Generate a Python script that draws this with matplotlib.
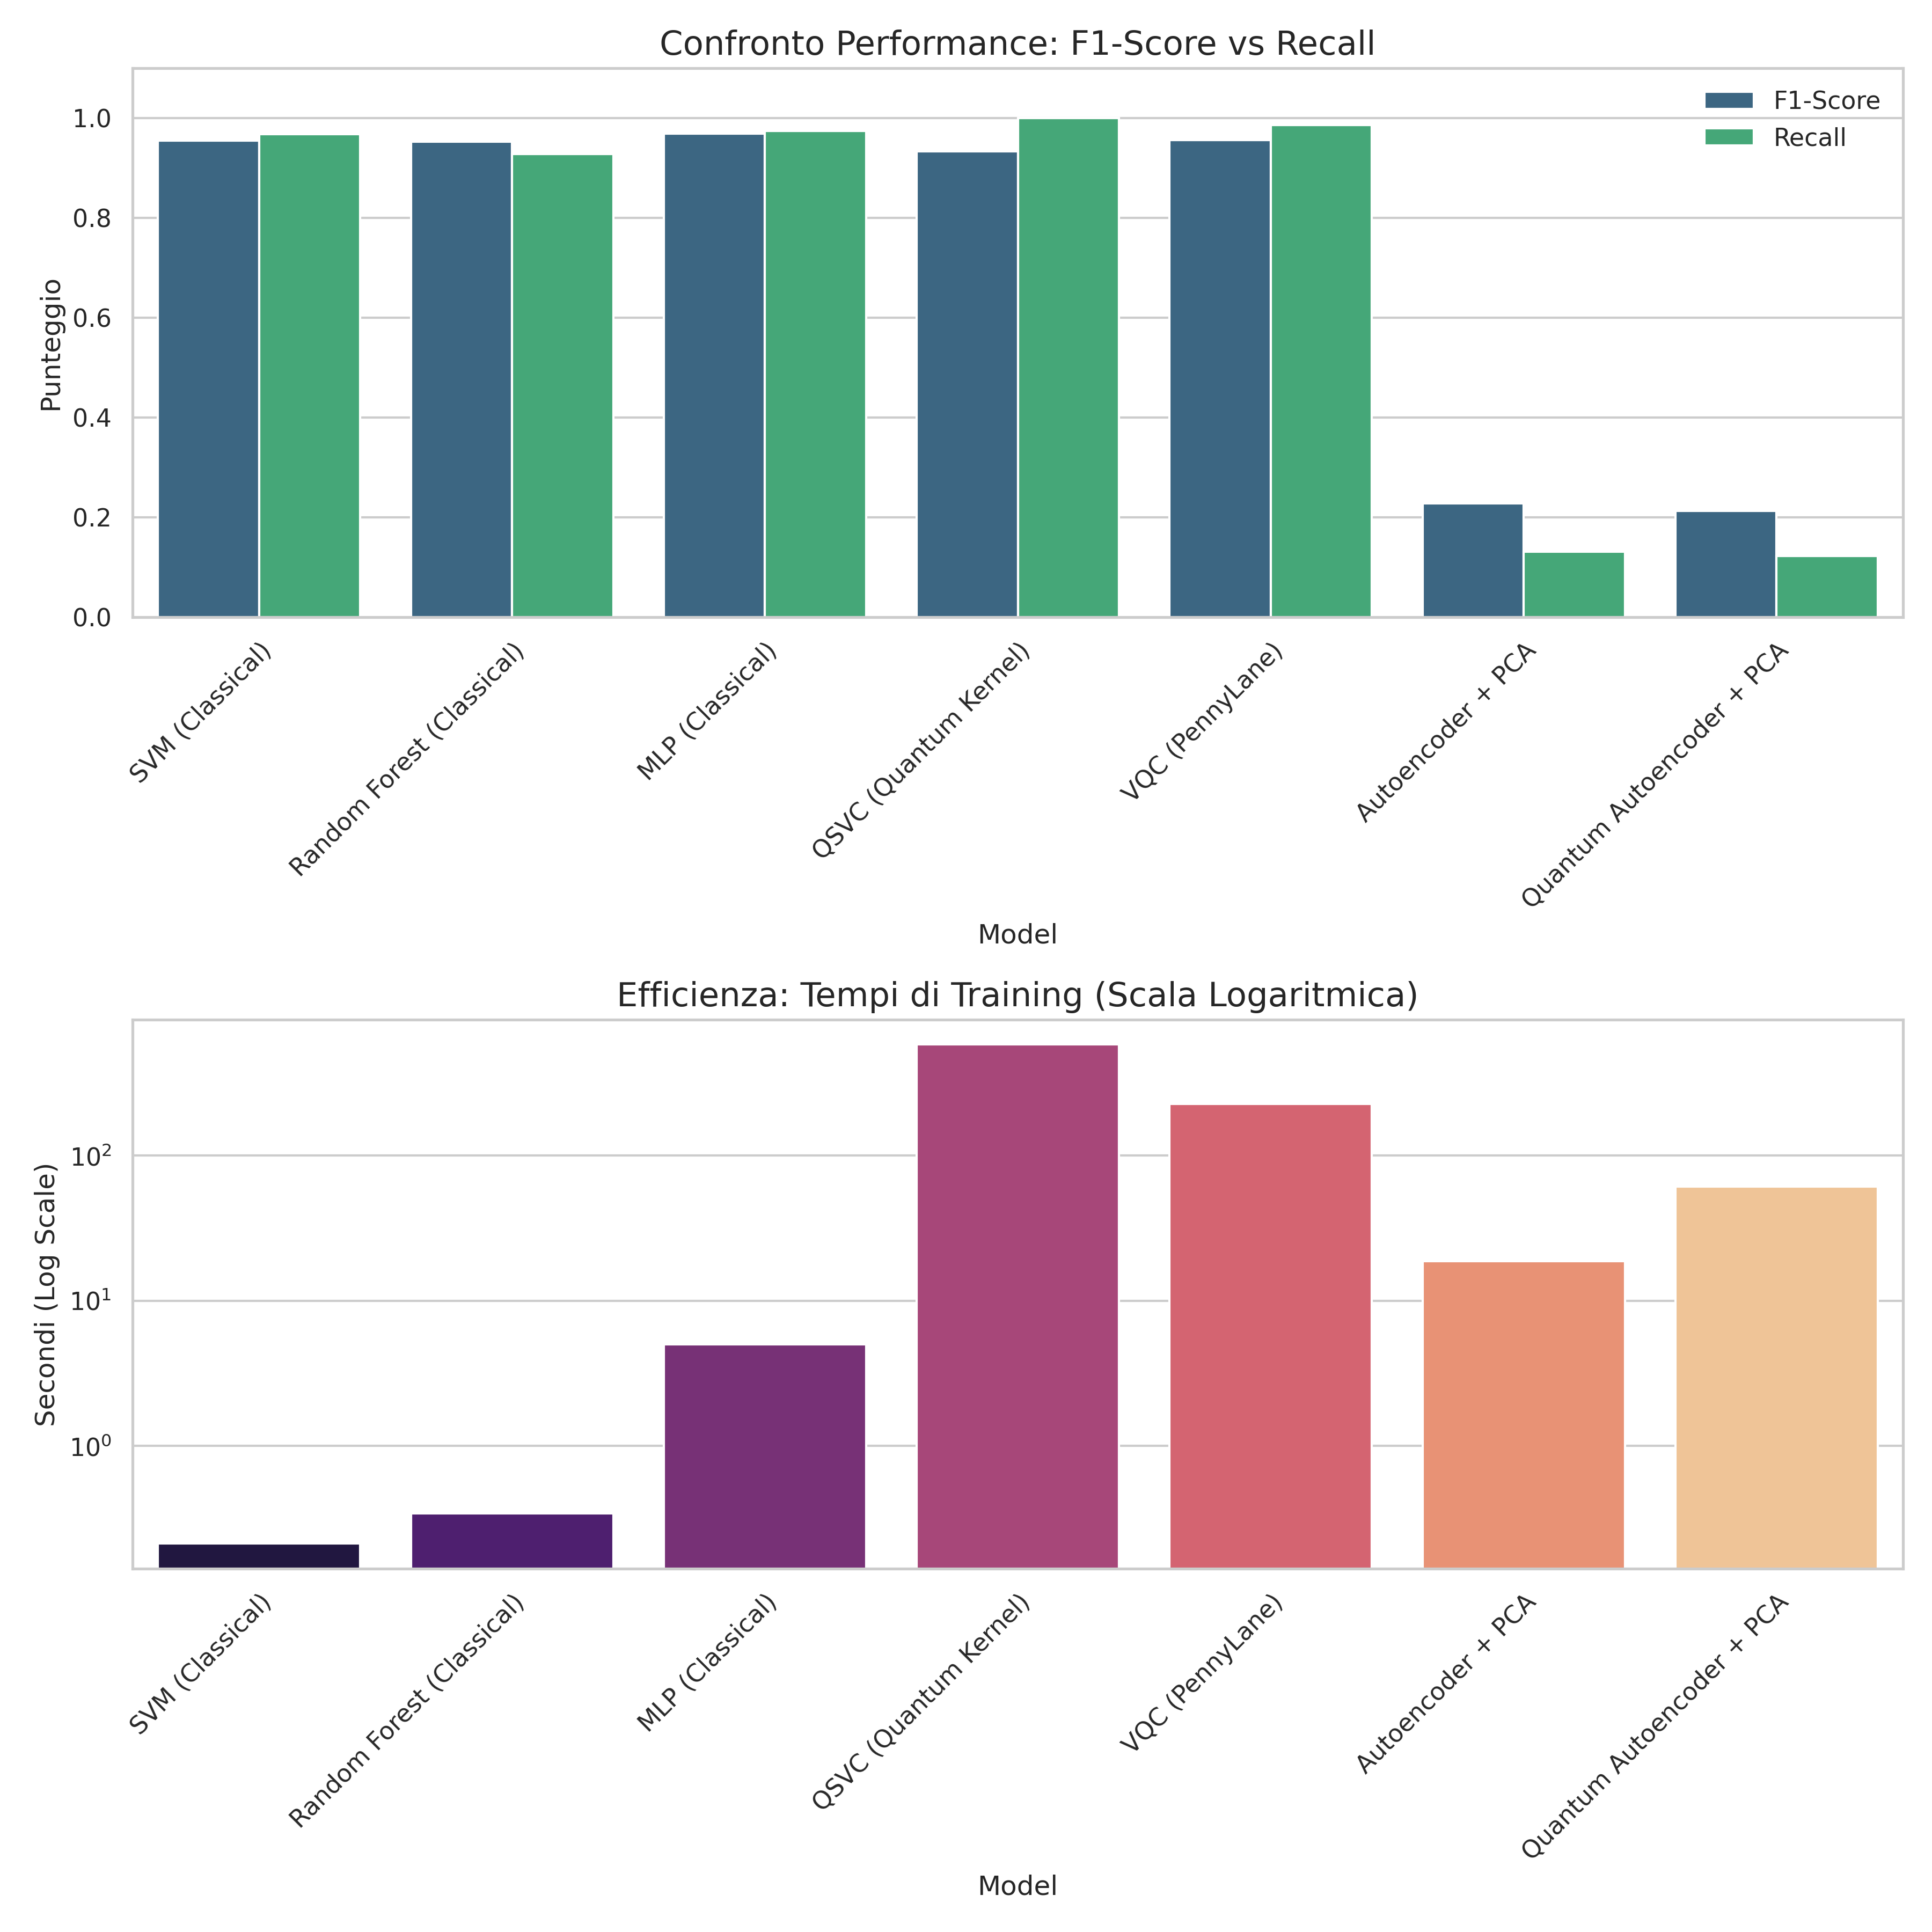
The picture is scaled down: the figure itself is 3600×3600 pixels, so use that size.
import numpy as np
import pandas as pd
import matplotlib
matplotlib.use("Agg")
import matplotlib.pyplot as plt
import seaborn as sns

# model results
models = ["SVM (Classical)", "Random Forest (Classical)", "MLP (Classical)",
          "QSVC (Quantum Kernel)", "VQC (PennyLane)", "Autoencoder + PCA",
          "Quantum Autoencoder + PCA"]
f1_scores = [0.955, 0.953, 0.969, 0.933, 0.956, 0.228, 0.213]
recalls = [0.968, 0.928, 0.974, 1.0, 0.986, 0.131, 0.122]
train_times = [0.212, 0.343, 5.0, 581.0, 226.0, 18.8, 61.0]

df = pd.DataFrame({"Model": models, "F1-Score": f1_scores,
                   "Recall": recalls, "Time": train_times})
df_melt = df.melt(id_vars="Model", value_vars=["F1-Score", "Recall"],
                  var_name="Metric", value_name="Score")

sns.set_theme(style="whitegrid")
fig, axes = plt.subplots(2, 1, figsize=(12, 12))

# performance
ax = axes[0]
sns.barplot(data=df_melt, x="Model", y="Score", hue="Metric",
            palette="viridis", ax=ax)
ax.set_title("Confronto Performance: F1-Score vs Recall", fontsize=15)
ax.set_ylabel("Punteggio")
ax.set_ylim(0, 1.1)
ax.legend(title=None, frameon=False, loc="upper right")
ax.tick_params(axis="x", rotation=45)
for lbl in ax.get_xticklabels():
    lbl.set_ha("right")
    lbl.set_rotation_mode("anchor")

# training time
ax = axes[1]
sns.barplot(data=df, x="Model", y="Time", hue="Model", palette="magma",
            legend=False, ax=ax)
ax.set_yscale("log")
ax.set_title("Efficienza: Tempi di Training (Scala Logaritmica)", fontsize=15)
ax.set_ylabel("Secondi (Log Scale)")
ax.tick_params(axis="x", rotation=45)
for lbl in ax.get_xticklabels():
    lbl.set_ha("right")
    lbl.set_rotation_mode("anchor")

plt.tight_layout()
plt.savefig("out.png", dpi=300)
